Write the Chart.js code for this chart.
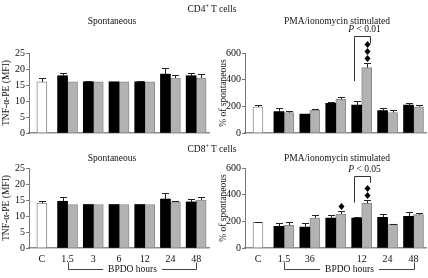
<!DOCTYPE html>
<html>
<head>
<meta charset="utf-8">
<script src="https://cdn.jsdelivr.net/npm/chart.js@4"></script>
<style>
  body { margin: 0; background: #fff; width: 428px; height: 278px; position: relative; overflow: hidden;
         font-family: "Liberation Serif", "Times New Roman", serif; color: #111; }
  canvas { position: absolute; }
  .lbl { position: absolute; font-size: 9.5px; white-space: nowrap; transform: translate(-50%, -50%); z-index: 2; }
  .lbl sup { font-size: 6px; vertical-align: 4px; }
</style>
</head>
<body>

<div class="lbl" style="left:212px;top:8px">CD4<sup>+</sup> T cells</div>
<div class="lbl" style="left:112px;top:21px">Spontaneous</div>
<div class="lbl" style="left:337px;top:21px">PMA/ionomycin stimulated</div>
<div class="lbl" style="left:212px;top:148px">CD8<sup>+</sup> T cells</div>
<div class="lbl" style="left:112px;top:158px">Spontaneous</div>
<div class="lbl" style="left:337px;top:158px">PMA/ionomycin stimulated</div>

<canvas id="cd4Spont" width="214" height="140" style="left:0;top:0"></canvas>
<canvas id="cd4Stim" width="214" height="140" style="left:214px;top:0"></canvas>
<canvas id="cd8Spont" width="214" height="138" style="left:0;top:140px"></canvas>
<canvas id="cd8Stim" width="214" height="138" style="left:214px;top:140px"></canvas>

<script>
// categories (BPDO hours), C = control
const categories = ['C', '1.5', '3', '6', '12', '24', '48'];
const categoriesCd8Stim = ['C', '1.5', '36', '', '12', '24', '48'];

// CD4+ spontaneous (MFI)
const cd4SpontControl = [16.0, null, null, null, null, null, null];
const cd4SpontControlErr = [17.2, null, null, null, null, null, null];
const cd4SpontBlack = [null, 17.9, 16.0, 16.0, 16.0, 18.4, 17.9];
const cd4SpontBlackErr = [null, 18.9, 16.2, null, 16.2, 20.4, 18.9];
const cd4SpontGray = [null, 16.0, 16.0, 16.0, 16.0, 17.2, 17.2];
const cd4SpontGrayErr = [null, null, null, null, null, 18.2, 18.4];

// CD4+ PMA/ionomycin (% of spontaneous)
const cd4StimControl = [196, null, null, null, null, null, null];
const cd4StimControlErr = [207, null, null, null, null, null, null];
const cd4StimBlack = [null, 160, 141, 222, 209, 168, 209];
const cd4StimBlackErr = [null, 188, null, 236, 237, 190, 227];
const cd4StimGray = [null, 153, 172, 253, 490, 154, 197];
const cd4StimGrayErr = [null, 165, 178, 270, 525, 173, 208];
const cd4StimMarks = [0, 0, 0, 0, 3, 0, 0];

// CD8+ spontaneous (MFI)
const cd8SpontControl = [14.0, null, null, null, null, null, null];
const cd8SpontControlErr = [14.8, null, null, null, null, null, null];
const cd8SpontBlack = [null, 14.6, 13.6, 13.6, 13.6, 15.3, 14.4];
const cd8SpontBlackErr = [null, 15.9, null, null, null, 17.2, 15.4];
const cd8SpontGray = [null, 13.6, 13.6, 13.6, 13.6, 14.4, 15.0];
const cd8SpontGrayErr = [null, null, null, null, null, 14.6, 15.9];

// CD8+ PMA/ionomycin (% of spontaneous)
const cd8StimControl = [192, null, null, null, null, null, null];
const cd8StimControlErr = [198, null, null, null, null, null, null];
const cd8StimBlack = [null, 163, 157, 225, 225, 230, 238];
const cd8StimBlackErr = [null, 188, 185, 245, 235, 258, 268];
const cd8StimGray = [null, 170, 225, 255, 335, 180, 250];
const cd8StimGrayErr = [null, 192, 245, 278, 360, 183, 262];
const cd8StimMarks = [0, 0, 0, 1, 2, 0, 0];

const FONT = '"Liberation Serif", "Times New Roman", serif';
Chart.defaults.font.family = FONT;
Chart.defaults.font.size = 10;
Chart.defaults.color = '#111';
Chart.defaults.animation = false;

// upper error bars + diamonds
const errorBars = {
  id: 'errorBars',
  afterDatasetsDraw(chart) {
    const ctx = chart.ctx;
    const y = chart.scales.y;
    chart.data.datasets.forEach((ds, di) => {
      const meta = chart.getDatasetMeta(di);
      ds.data.forEach((v, i) => {
        if (v == null) return;
        const bar = meta.data[i];
        const x = Math.round(bar.x) + 0.5;
        let top = bar.y;
        if (ds.errTop && ds.errTop[i] != null) {
          top = Math.round(y.getPixelForValue(ds.errTop[i])) + 0.5;
          ctx.save();
          ctx.strokeStyle = '#222';
          ctx.lineWidth = 1;
          ctx.beginPath();
          ctx.moveTo(x, bar.y);
          ctx.lineTo(x, top);
          ctx.moveTo(x - 3.5, top);
          ctx.lineTo(x + 3.5, top);
          ctx.stroke();
          ctx.restore();
        }
        const n = ds.marks ? ds.marks[i] : 0;
        for (let k = 0; k < n; k++) {
          const cy = top - 5 - k * 7;
          ctx.save();
          ctx.fillStyle = '#000';
          ctx.beginPath();
          ctx.moveTo(x, cy - 3.5);
          ctx.lineTo(x + 3, cy);
          ctx.lineTo(x, cy + 3.5);
          ctx.lineTo(x - 3, cy);
          ctx.closePath();
          ctx.fill();
          ctx.restore();
        }
      });
    });
  }
};

function makePanel(id, cfg) {
  const plugins = [errorBars];

  if (cfg.sig) {
    plugins.push({
      id: 'sigBracket',
      afterDraw(chart) {
        const ctx = chart.ctx;
        const y = chart.scales.y;
        const b = chart.getDatasetMeta(1).data[cfg.sig.index];
        const g = chart.getDatasetMeta(2).data[cfg.sig.index];
        const x1 = Math.round(b.x - 3) + 0.5, x2 = Math.round(g.x + 3) + 0.5;
        const yt = Math.round(y.getPixelForValue(cfg.sig.top)) + 0.5;
        ctx.save();
        ctx.strokeStyle = '#333';
        ctx.lineWidth = 1;
        ctx.beginPath();
        ctx.moveTo(x1, y.getPixelForValue(cfg.sig.leftBottom));
        ctx.lineTo(x1, yt);
        ctx.lineTo(x2, yt);
        ctx.lineTo(x2, y.getPixelForValue(cfg.sig.rightBottom));
        ctx.stroke();
        ctx.fillStyle = '#111';
        ctx.textBaseline = 'middle';
        ctx.font = 'italic 9.5px ' + FONT;
        const pw = ctx.measureText('P').width;
        ctx.font = '9.5px ' + FONT;
        const rest = ' < ' + cfg.sig.text;
        const rw = ctx.measureText(rest).width;
        let tx = (x1 + x2) / 2 + 2 - (pw + rw) / 2;
        ctx.font = 'italic 9.5px ' + FONT;
        ctx.fillText('P', tx, yt - 7);
        ctx.font = '9.5px ' + FONT;
        ctx.fillText(rest, tx + pw, yt - 7);
        ctx.restore();
      }
    });
  }

  if (cfg.bpdo) {
    plugins.push({
      id: 'bpdoBracket',
      afterDraw(chart) {
        const ctx = chart.ctx;
        const xs = chart.scales.x;
        const x1 = Math.round(xs.getPixelForValue(1)) + 0.5;
        const x2 = Math.round(xs.getPixelForValue(6)) + 0.5;
        const yb = Math.round(chart.chartArea.bottom + 21) + 0.5;
        const label = 'BPDO hours';
        ctx.save();
        ctx.font = '9.5px ' + FONT;
        const tw = ctx.measureText(label).width;
        const cx = (x1 + x2) / 2;
        ctx.strokeStyle = '#444';
        ctx.lineWidth = 1;
        ctx.beginPath();
        ctx.moveTo(x1, yb - 7);
        ctx.lineTo(x1, yb);
        ctx.lineTo(cx - tw / 2 - 5, yb);
        ctx.moveTo(cx + tw / 2 + 5, yb);
        ctx.lineTo(x2, yb);
        ctx.lineTo(x2, yb - 7);
        ctx.stroke();
        ctx.fillStyle = '#111';
        ctx.textAlign = 'center';
        ctx.textBaseline = 'middle';
        ctx.fillText(label, cx, yb);
        ctx.restore();
      }
    });
  }

  return new Chart(document.getElementById(id), {
    type: 'bar',
    data: {
      labels: cfg.labels,
      datasets: [
        { data: cfg.control, errTop: cfg.controlErr, backgroundColor: '#fff', borderColor: '#8a8a8a', borderWidth: 1 },
        { data: cfg.black, errTop: cfg.blackErr, backgroundColor: '#000', borderColor: '#000', borderWidth: 0 },
        { data: cfg.gray, errTop: cfg.grayErr, marks: cfg.marks, backgroundColor: '#b2b2b2', borderColor: '#8c8c8c', borderWidth: 1 }
      ]
    },
    options: {
      responsive: false,
      skipNull: true,
      barThickness: 10,
      layout: { padding: cfg.padding },
      plugins: { legend: { display: false }, tooltip: { enabled: false } },
      scales: {
        x: {
          grid: { display: false, drawTicks: false },
          border: { color: '#8c8c8c', width: 1.5 },
          ticks: { display: cfg.showTicks, padding: 5, maxRotation: 0, autoSkip: false, color: '#111' },
          afterFit(scale) { scale.height = cfg.xHeight; }
        },
        y: {
          min: 0,
          max: cfg.yMax,
          ticks: {
            stepSize: cfg.yStep,
            padding: 1,
            color: '#111',
            callback: (v) => (v % cfg.yLabelEvery === 0 ? v : '')
          },
          grid: { drawOnChartArea: false, drawTicks: true, tickLength: 3, color: '#777' },
          border: { color: '#777', width: 1 },
          title: { display: true, text: cfg.yTitle, font: { size: 9.5 }, color: '#111', padding: { top: cfg.titlePad, bottom: 0 } },
          afterFit(scale) { scale.width = cfg.yWidth; }
        }
      }
    },
    plugins: plugins
  });
}

makePanel('cd4Spont', {
  labels: categories,
  control: cd4SpontControl, controlErr: cd4SpontControlErr,
  black: cd4SpontBlack, blackErr: cd4SpontBlackErr,
  gray: cd4SpontGray, grayErr: cd4SpontGrayErr,
  yMax: 25, yStep: 5, yLabelEvery: 5, yTitle: 'TNF-α-PE (MFI)', titlePad: 1,
  yWidth: 29, xHeight: 2, showTicks: false,
  padding: { top: 53, right: 5, left: 0, bottom: 0 }
});

makePanel('cd4Stim', {
  labels: categories,
  control: cd4StimControl, controlErr: cd4StimControlErr,
  black: cd4StimBlack, blackErr: cd4StimBlackErr,
  gray: cd4StimGray, grayErr: cd4StimGrayErr, marks: cd4StimMarks,
  yMax: 600, yStep: 100, yLabelEvery: 200, yTitle: '% of spontaneous', titlePad: 4,
  yWidth: 31, xHeight: 2, showTicks: false,
  padding: { top: 53, right: 1.5, left: 0, bottom: 0 },
  sig: { index: 4, text: '0.01', top: 730, leftBottom: 390, rightBottom: 670 }
});

makePanel('cd8Spont', {
  labels: categories,
  control: cd8SpontControl, controlErr: cd8SpontControlErr,
  black: cd8SpontBlack, blackErr: cd8SpontBlackErr,
  gray: cd8SpontGray, grayErr: cd8SpontGrayErr,
  yMax: 25, yStep: 5, yLabelEvery: 5, yTitle: 'TNF-α-PE (MFI)', titlePad: 1,
  yWidth: 29, xHeight: 30, showTicks: true, bpdo: true,
  padding: { top: 28, right: 5, left: 0, bottom: 0 }
});

makePanel('cd8Stim', {
  labels: categoriesCd8Stim,
  control: cd8StimControl, controlErr: cd8StimControlErr,
  black: cd8StimBlack, blackErr: cd8StimBlackErr,
  gray: cd8StimGray, grayErr: cd8StimGrayErr, marks: cd8StimMarks,
  yMax: 600, yStep: 100, yLabelEvery: 200, yTitle: '% of spontaneous', titlePad: 4,
  yWidth: 31, xHeight: 30, showTicks: true, bpdo: true,
  padding: { top: 28, right: 1.5, left: 0, bottom: 0 },
  sig: { index: 4, text: '0.05', top: 540, leftBottom: 340, rightBottom: 490 }
});
</script>
</body>
</html>
